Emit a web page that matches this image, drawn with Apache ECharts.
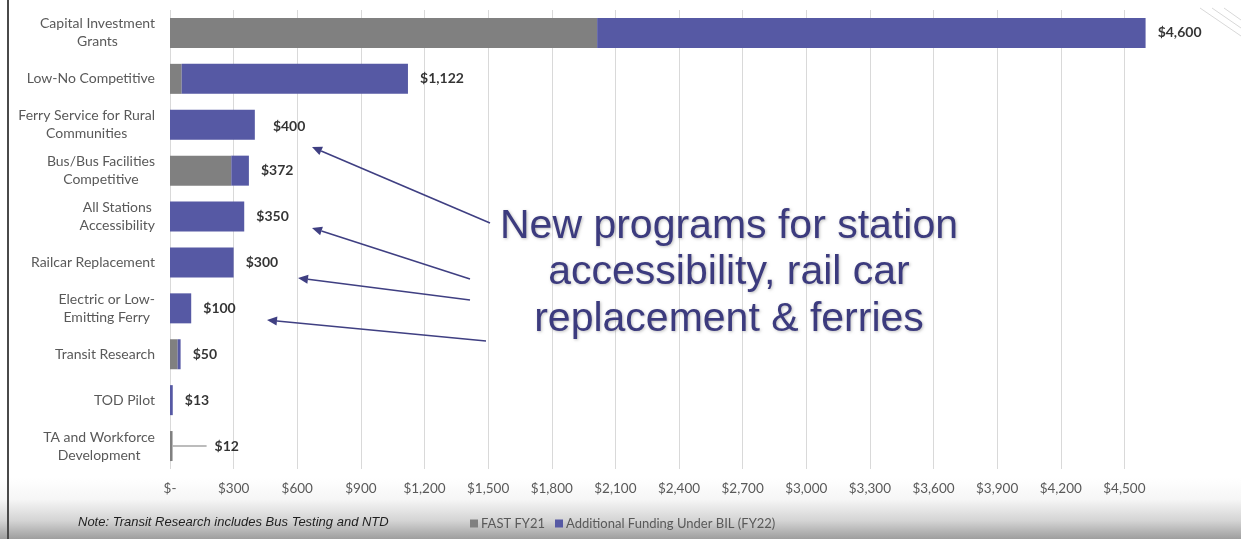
<!DOCTYPE html>
<html>
<head>
<meta charset="utf-8">
<script src="https://cdn.jsdelivr.net/npm/echarts@6/dist/echarts.min.js"></script>
<style>
  html, body { margin: 0; padding: 0; background: #ffffff; }
  #chart { width: 1241px; height: 539px; }
</style>
</head>
<body>
<div id="chart"></div>
<script>
// ---- Data ----
const categories = [
  'Capital Investment\nGrants',
  'Low-No Competitive',
  'Ferry Service for Rural\nCommunities',
  'Bus/Bus Facilities\nCompetitive',
  'All Stations\nAccessibility',
  'Railcar Replacement',
  'Electric or Low-\nEmitting Ferry',
  'Transit Research',
  'TOD Pilot',
  'TA and Workforce\nDevelopment'
];
const fastFY21 = [2014, 55, 0, 289, 0, 0, 0, 36, 0, 12];
const additionalBIL = [2586, 1067, 400, 83, 350, 300, 100, 14, 13, 0];
const totals = [4600, 1122, 400, 372, 350, 300, 100, 50, 13, 12];
const seriesNames = ['FAST FY21', 'Additional Funding Under BIL (FY22)'];
const annotationText = 'New programs for station\naccessibility, rail car\nreplacement & ferries';
const noteText = 'Note: Transit Research includes Bus Testing and NTD';

// ---- Chart ----
const chart = echarts.init(document.getElementById('chart'), null, { renderer: 'canvas' });
const FONT = 'Lato, "Open Sans", sans-serif';
const fmtMoney = v => v === 0 ? '$-' : '$' + v.toLocaleString('en-US');

// arrow helper for annotation graphics
function arrow(x1, y1, x2, y2, color) {
  const ang = Math.atan2(y2 - y1, x2 - x1);
  const L = 10, W = 4.5;
  const bx = x2 - L * Math.cos(ang), by = y2 - L * Math.sin(ang);
  const px = -Math.sin(ang) * W, py = Math.cos(ang) * W;
  return [
    { type: 'line', shape: { x1: x1, y1: y1, x2: bx, y2: by }, style: { stroke: color, lineWidth: 1.6 }, z: 50 },
    { type: 'polygon', shape: { points: [[x2, y2], [bx + px, by + py], [bx - px, by - py]] }, style: { fill: color }, z: 50 }
  ];
}
const arrowColor = '#3f3f82';
const arrows = [].concat(
  arrow(490, 223, 312, 147, arrowColor),
  arrow(470, 279, 312, 228, arrowColor),
  arrow(470, 300, 298, 278, arrowColor),
  arrow(486, 341, 267, 320, arrowColor)
);

const lastIdx = totals.length - 1;

const option = {
  backgroundColor: '#ffffff',
  animation: false,
  textStyle: { fontFamily: FONT },
  grid: { left: 170, right: 53, top: 10, bottom: 70, containLabel: false },
  legend: {
    data: seriesNames,
    left: 465, top: 512,
    icon: 'rect', itemWidth: 8, itemHeight: 8, itemGap: 10,
    textStyle: { color: '#595959', fontSize: 13, fontFamily: FONT, padding: [0, 0, 0, -2] }
  },
  xAxis: {
    type: 'value', min: 0, max: 4800, interval: 300,
    axisLine: { show: false }, axisTick: { show: false },
    splitLine: { show: true, showMaxLine: false, lineStyle: { color: '#d9d9d9', width: 1 } },
    axisLabel: {
      color: '#595959', fontSize: 13.5, fontFamily: FONT, margin: 13,
      showMaxLabel: false, formatter: fmtMoney
    }
  },
  yAxis: {
    type: 'category', data: categories, inverse: true,
    axisLine: { show: false }, axisTick: { show: false },
    axisLabel: {
      color: '#595959', fontSize: 14, fontFamily: FONT, margin: 15, lineHeight: 18,
      align: 'right',
      formatter: v => v.split('\n').map(s => '{c|' + s + '}').join('\n'),
      rich: { c: { align: 'center', color: '#595959', fontSize: 14, fontFamily: FONT, lineHeight: 18 } }
    }
  },
  series: [
    {
      name: seriesNames[0], type: 'bar', stack: 'total', data: fastFY21,
      barWidth: 30, itemStyle: { color: '#808080' }
    },
    {
      name: seriesNames[1], type: 'bar', stack: 'total', data: additionalBIL,
      barWidth: 30, itemStyle: { color: '#5659a4' }
    },
    {
      name: 'Total', type: 'scatter', symbolSize: 0.1,
      itemStyle: { color: 'rgba(0,0,0,0)' },
      data: totals.map((t, i) => {
        const item = { value: [t, categories[i]] };
        if (i === lastIdx) {
          item.labelLine = { show: true, lineStyle: { color: '#a6a6a6', width: 1.5 } };
        }
        return item;
      }),
      label: {
        show: true, position: 'right', distance: 12,
        formatter: p => (p.dataIndex === lastIdx ? '{g|}' : '') + '{v|' + fmtMoney(totals[p.dataIndex]) + '}',
        rich: {
          g: { width: 8, height: 10 },
          v: { color: '#000000', fontWeight: 'bold', fontSize: 14, fontFamily: FONT }
        }
      },
      labelLayout: p => {
        if (p.dataIndex === lastIdx) return { dx: 22 };
        if (p.dataIndex === 2) return { dx: 6, dy: 2 };
        return {};
      },
      tooltip: { show: false }, silent: true, z: 10
    }
  ],
  graphic: [
    // bottom gradient band
    {
      type: 'rect', left: 0, top: 478, z: -10, silent: true,
      shape: { width: 1241, height: 61 },
      style: {
        fill: new echarts.graphic.LinearGradient(0, 0, 0, 1, [
          { offset: 0, color: 'rgba(255,255,255,1)' },
          { offset: 0.35, color: '#f6f6f6' },
          { offset: 0.7, color: '#d4d4d4' },
          { offset: 1, color: '#9e9e9e' }
        ])
      }
    },
    // left frame line
    { type: 'rect', left: 7, top: 0, z: 60, shape: { width: 2, height: 539 }, style: { fill: '#4a4a4a' } },
    // top-right decoration
    { type: 'line', shape: { x1: 1200, y1: 8, x2: 1241, y2: 36 }, style: { stroke: '#d8d8d8', lineWidth: 1 }, z: 1 },
    { type: 'line', shape: { x1: 1212, y1: 8, x2: 1241, y2: 28 }, style: { stroke: '#d8d8d8', lineWidth: 1 }, z: 1 },
    { type: 'line', shape: { x1: 1224, y1: 8, x2: 1241, y2: 20 }, style: { stroke: '#d8d8d8', lineWidth: 1 }, z: 1 },
    // note
    {
      type: 'text', left: 78, top: 516, z: 60,
      style: { text: noteText, fill: '#1f1f1f', font: 'italic 13px "Liberation Sans", Arial, sans-serif' }
    },
    // annotation text
    {
      type: 'text', x: 729, y: 203, z: 55,
      style: {
        text: annotationText, fill: '#3c3b7e', align: 'center', verticalAlign: 'top',
        font: '41px "Liberation Sans", Arial, sans-serif', lineHeight: 46.5,
        textShadowColor: 'rgba(0,0,0,0.25)', textShadowBlur: 3, textShadowOffsetX: 1, textShadowOffsetY: 1
      }
    }
  ].concat(arrows)
};
chart.setOption(option);
</script>
</body>
</html>
